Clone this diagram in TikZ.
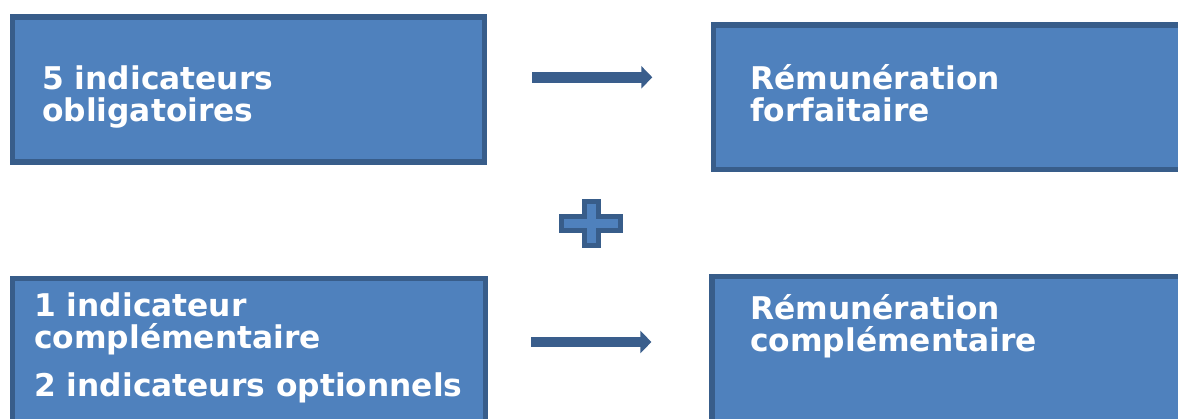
\documentclass[tikz,border=0pt]{standalone}
\usepackage{fontspec}
\setmainfont{DejaVu Sans}
\usetikzlibrary{arrows.meta}
\definecolor{boxfill}{HTML}{4F81BD}
\definecolor{boxline}{HTML}{385D8A}
\definecolor{arrowcol}{HTML}{3A5E8C}
\tikzset{
  box/.style={draw=boxline, fill=boxfill, line width=5.5pt, rectangle, inner sep=0pt, outer sep=0pt},
  label/.style={text=white, font=\fontsize{31.3}{31.8}\selectfont\bfseries, align=left, anchor=base west, inner sep=0pt},
  fatarrow/.style={draw=arrowcol, line width=10.5pt, -{Triangle[width=22pt,length=11pt]}},
}
\begin{document}
\begin{tikzpicture}[x=1pt,y=-1pt]
\useasboundingbox (0,0) rectangle (1178,418);
\clip (0,0) rectangle (1178,418);
% boxes
\node[box, minimum width=472pt, minimum height=145pt] (tl) at (248.25,89.25) {};
\node[box, minimum width=490pt, minimum height=144.5pt] (tr) at (958.5,97) {};
\node[box, minimum width=473pt, minimum height=170pt] (bl) at (249,363.5) {};
\node[box, minimum width=490pt, minimum height=170pt] (br) at (957,361.5) {};
% texts (anchor = baseline of last line)
\node[label] (ttl) at (42,121.5) {5 indicateurs\\obligatoires};
\node[label] (ttr) at (750,121.7) {Rémunération\\forfaitaire};
\node[label] (tbl) at (34,396.7) {1 indicateur\\complémentaire\\[16.6pt]2 indicateurs optionnels};
\node[label] (tbr) at (750,351.7) {Rémunération\\complémentaire};
% arrows
\coordinate (a1s) at (532,77.3);
\coordinate (a1e) at (652.3,77.3);
\coordinate (a2s) at (531,342);
\coordinate (a2e) at (651.4,342);
\draw[fatarrow] (a1s) -- (a1e);
\draw[fatarrow] (a2s) -- (a2e);
% plus sign
\draw[draw=boxline, fill=boxfill, line width=5pt, line join=miter]
  (584.2,201.5) -- (598.5,201.5) -- (598.5,216.5) -- (620.8,216.5) -- (620.8,230.8)
  -- (598.5,230.8) -- (598.5,245.8) -- (584.2,245.8) -- (584.2,230.8) -- (561.8,230.8)
  -- (561.8,216.5) -- (584.2,216.5) -- cycle;
\end{tikzpicture}
\end{document}
